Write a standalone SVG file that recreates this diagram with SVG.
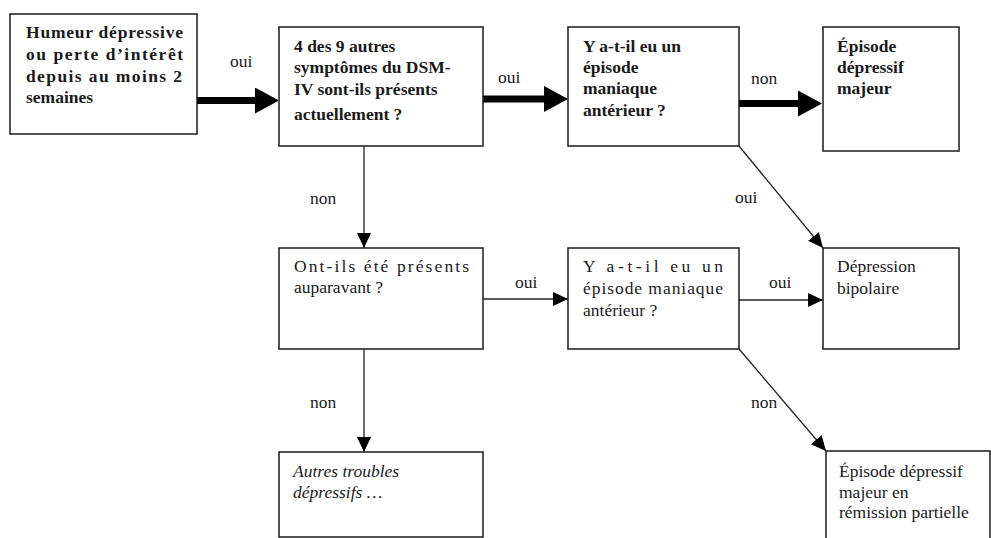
<svg xmlns="http://www.w3.org/2000/svg" width="991" height="538" viewBox="0 0 991 538">
<style>
.box{fill:#fff;stroke:#1a1a1a;stroke-width:1.5}
.t{font-family:'Liberation Serif','Tinos','Noto Serif','DejaVu Serif','Times New Roman',Times,serif;font-size:17.5px;fill:#1a1a1a}
.b{font-weight:bold}
.i{font-style:italic}
.thin{stroke:#222;stroke-width:1.3;fill:none}
.thick{stroke:#000;stroke-width:7;fill:none}
</style>
<defs>
<marker id="ah" markerUnits="userSpaceOnUse" markerWidth="16" markerHeight="16" refX="15" refY="7" orient="auto">
<path d="M0,0 L15,7 L0,14 Z" fill="#000"/>
</marker>
<marker id="bh" markerUnits="userSpaceOnUse" markerWidth="26" markerHeight="28" refX="1" refY="13" orient="auto">
<path d="M0,0 L24,13 L0,26 Z" fill="#000"/>
</marker>
</defs>
<rect width="991" height="538" fill="#fff"/>
<g id="connectors">
<line class="thick" x1="197" y1="100.5" x2="256" y2="100.5" marker-end="url(#bh)"/>
<line class="thick" x1="483" y1="99" x2="545" y2="99" marker-end="url(#bh)"/>
<line class="thick" x1="739" y1="103.5" x2="799" y2="103.5" marker-end="url(#bh)"/>
<line class="thin" x1="364" y1="146" x2="364" y2="248" marker-end="url(#ah)"/>
<line class="thin" x1="483" y1="299" x2="568" y2="299" marker-end="url(#ah)"/>
<line class="thin" x1="739" y1="300" x2="823" y2="300" marker-end="url(#ah)"/>
<line class="thin" x1="739" y1="146" x2="823" y2="248" marker-end="url(#ah)"/>
<line class="thin" x1="364" y1="349" x2="364" y2="452" marker-end="url(#ah)"/>
<line class="thin" x1="739" y1="349" x2="826" y2="451" marker-end="url(#ah)"/>
<text class="t" x="230" y="67">oui</text>
<text class="t" x="498" y="83">oui</text>
<text class="t" x="751" y="84">non</text>
<text class="t" x="310" y="204">non</text>
<text class="t" x="735" y="203">oui</text>
<text class="t" x="515" y="288">oui</text>
<text class="t" x="769" y="288">oui</text>
<text class="t" x="310" y="408">non</text>
<text class="t" x="751" y="408">non</text>
</g>
<g id="n1">
<rect class="box" x="10" y="14" width="187" height="120"/>
<text class="t b" x="26" y="38" textLength="157" lengthAdjust="spacing">Humeur dépressive</text>
<text class="t b" x="26" y="60" textLength="157" lengthAdjust="spacing">ou perte d’intérêt</text>
<text class="t b" x="26" y="82" textLength="156" lengthAdjust="spacing">depuis au moins 2</text>
<text class="t b" x="26" y="103">semaines</text>
</g>
<g id="n2">
<rect class="box" x="279" y="27" width="204" height="119"/>
<text class="t b" x="294" y="52">4 des 9 autres</text>
<text class="t b" x="294" y="73">symptômes du DSM-</text>
<text class="t b" x="294" y="95">IV sont-ils présents</text>
<text class="t b" x="294" y="120">actuellement ?</text>
</g>
<g id="n3">
<rect class="box" x="568" y="27" width="171" height="119"/>
<text class="t b" x="583" y="52">Y a-t-il eu un</text>
<text class="t b" x="583" y="73">épisode</text>
<text class="t b" x="583" y="94">maniaque</text>
<text class="t b" x="583" y="116">antérieur ?</text>
</g>
<g id="n4">
<rect class="box" x="823" y="27" width="136" height="124"/>
<text class="t b" x="837" y="52">Épisode</text>
<text class="t b" x="837" y="73">dépressif</text>
<text class="t b" x="837" y="94">majeur</text>
</g>
<g id="n5">
<rect class="box" x="279" y="248" width="204" height="101"/>
<text class="t" x="294" y="272" textLength="175" lengthAdjust="spacing">Ont-ils été présents</text>
<text class="t" x="294" y="293">auparavant ?</text>
</g>
<g id="n6">
<rect class="box" x="568" y="248" width="171" height="101"/>
<text class="t" x="583" y="272" textLength="140" lengthAdjust="spacing">Y a-t-il eu un</text>
<text class="t" x="583" y="294" textLength="140" lengthAdjust="spacing">épisode maniaque</text>
<text class="t" x="583" y="316">antérieur ?</text>
</g>
<g id="n7">
<rect class="box" x="823" y="248" width="136" height="101"/>
<text class="t" x="837" y="272">Dépression</text>
<text class="t" x="837" y="294">bipolaire</text>
</g>
<g id="n8">
<rect class="box" x="279" y="452" width="204" height="85"/>
<text class="t i" x="293" y="477">Autres troubles</text>
<text class="t i" x="293" y="498">dépressifs …</text>
</g>
<g id="n9">
<rect class="box" x="826" y="451" width="164" height="100"/>
<text class="t" x="839" y="477">Épisode dépressif</text>
<text class="t" x="839" y="498">majeur en</text>
<text class="t" x="839" y="518">rémission partielle</text>
</g>
</svg>
